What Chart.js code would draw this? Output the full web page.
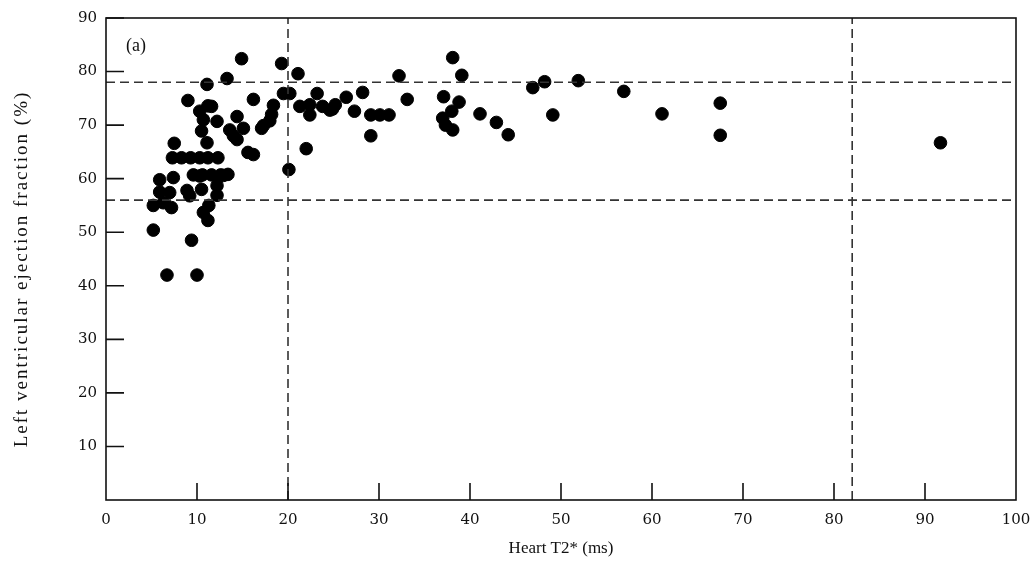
<!DOCTYPE html>
<html>
<head>
<meta charset="utf-8">
<script src="https://cdn.jsdelivr.net/npm/chart.js@4"></script>
<style>
  html, body { margin: 0; padding: 0; background: #fff; }
  #wrap { width: 1035px; height: 563px; }
</style>
</head>
<body>
<div id="wrap"><canvas id="t2Chart"></canvas></div>
<script>
// Heart T2* (ms) vs LVEF (%)
const t2Values = [
  5.2, 5.2, 5.9, 5.9, 6.3, 6.7, 7.0, 7.2, 7.3, 7.4, 7.5, 8.3, 9.0, 8.9, 9.2, 9.3, 9.4,
  9.6, 10.0, 10.3, 10.3, 10.3, 10.5, 10.5, 10.6, 10.7, 10.7, 11.1, 11.1, 11.2, 11.2, 11.2,
  11.3, 11.6, 11.6, 12.2, 12.2, 12.2, 12.3, 12.6, 12.9, 13.3, 13.4, 13.6, 14.0, 14.4,
  14.4, 14.9, 15.1, 15.6, 16.2, 16.2, 17.1, 17.3, 18.0, 18.2, 18.4, 19.3, 19.5, 20.1,
  20.2, 21.1, 21.3, 22.0, 22.4, 22.4, 23.2, 23.8, 24.6, 24.9, 25.2, 26.4, 27.3, 28.2,
  29.1, 29.1, 30.1, 31.1, 32.2, 33.1, 37.0, 37.1, 37.3, 38.0, 38.1, 38.1, 38.8, 39.1,
  41.1, 42.9, 44.2, 46.9, 48.2, 49.1, 51.9, 56.9, 61.1, 67.5, 67.5, 91.7
];
const lvefValues = [
  50.4, 55.0, 59.8, 57.5, 55.5, 42.0, 57.4, 54.6, 63.9, 60.2, 66.6, 63.9, 74.6, 57.8, 56.8, 63.9, 48.5,
  60.7, 42.0, 63.9, 72.6, 60.5, 68.9, 58.0, 60.7, 71.0, 53.7, 77.6, 66.7, 52.2, 73.6, 63.9,
  55.0, 73.5, 60.7, 70.7, 58.7, 56.9, 63.9, 60.7, 60.6, 78.7, 60.8, 69.1, 68.0, 71.6,
  67.3, 82.4, 69.4, 64.9, 74.8, 64.5, 69.4, 69.9, 70.8, 72.0, 73.7, 81.5, 75.9, 61.7,
  75.9, 79.6, 73.5, 65.6, 73.8, 71.9, 75.9, 73.5, 72.8, 73.0, 73.8, 75.2, 72.6, 76.1,
  71.9, 68.0, 71.9, 71.9, 79.2, 74.8, 71.3, 75.3, 70.0, 72.6, 69.1, 82.6, 74.3, 79.3,
  72.1, 70.5, 68.2, 77.0, 78.1, 71.9, 78.3, 76.3, 72.1, 74.1, 68.1, 66.7
];

// normal-range reference lines
const lvefRefLines = [56, 78];
const t2RefLines = [20, 82];

const xTicks = [0, 10, 20, 30, 40, 50, 60, 70, 80, 90, 100];
const yTicks = [0, 10, 20, 30, 40, 50, 60, 70, 80, 90];

const yTitle = 'Left ventricular ejection fraction (%)';
const xTitle = 'Heart T2* (ms)';

const serif = '"Liberation Serif", "DejaVu Serif", serif';
const tickSerif = '"DejaVu Serif", "Liberation Serif", serif';
const dashStyle = { borderColor: '#333', borderWidth: 1.6, borderDash: [9, 5], pointRadius: 0, showLine: true, fill: false };

const datasets = [];
lvefRefLines.forEach(v => datasets.push(Object.assign({
  data: [{ x: xTicks[0], y: v }, { x: xTicks[xTicks.length - 1], y: v }]
}, dashStyle)));
t2RefLines.forEach(v => datasets.push(Object.assign({
  data: [{ x: v, y: yTicks[0] }, { x: v, y: yTicks[yTicks.length - 1] }]
}, dashStyle)));
datasets.push({
  data: t2Values.map((x, i) => ({ x: x, y: lvefValues[i] })),
  backgroundColor: '#000',
  borderColor: '#000',
  pointRadius: 6.3,
  pointHoverRadius: 6.3,
  showLine: false
});

// frame, inward tick marks, y title and the panel letter
const framePlugin = {
  id: 'frame',
  afterDatasetsDraw(chart) {
    const { ctx, chartArea: a, scales } = chart;
    ctx.save();
    ctx.strokeStyle = '#111';
    ctx.lineWidth = 1.6;
    ctx.strokeRect(a.left, a.top, a.right - a.left, a.bottom - a.top);
    ctx.beginPath();
    yTicks.slice(1).forEach(v => {
      const py = scales.y.getPixelForValue(v);
      ctx.moveTo(a.left, py);
      ctx.lineTo(a.left + 18, py);
    });
    xTicks.slice(1, -1).forEach(v => {
      const px = scales.x.getPixelForValue(v);
      ctx.moveTo(px, a.bottom);
      ctx.lineTo(px, a.bottom - 17);
    });
    ctx.stroke();
    ctx.fillStyle = '#111';
    ctx.font = '18px ' + serif;
    ctx.textBaseline = 'middle';
    ctx.fillText('(a)', a.left + 20, a.top + 28);

    // y title, spaced out to the width of the original
    ctx.translate(22, (a.top + a.bottom) / 2 + 10);
    ctx.rotate(-Math.PI / 2);
    ctx.font = '19px ' + serif;
    ctx.letterSpacing = '2px';
    ctx.textAlign = 'center';
    ctx.fillText(yTitle, 0, 0);
    ctx.restore();
  }
};

new Chart(document.getElementById('t2Chart'), {
  type: 'scatter',
  data: { datasets: datasets },
  plugins: [framePlugin],
  options: {
    responsive: true,
    maintainAspectRatio: false,
    animation: false,
    layout: { padding: { top: 14, right: 0, left: 0, bottom: 0 } },
    plugins: { legend: { display: false }, tooltip: { enabled: false } },
    scales: {
      x: {
        type: 'linear',
        min: 0,
        max: 100,
        afterBuildTicks: s => { s.ticks = xTicks.map(v => ({ value: v })); },
        afterFit: s => { s.height = 63; s.paddingRight = 19; s.paddingLeft = 0; },
        grid: { display: false, drawTicks: false },
        border: { display: false },
        ticks: { color: '#111', font: { family: tickSerif, size: 15 }, padding: 11, maxRotation: 0 },
        title: { display: true, text: xTitle, color: '#111', font: { family: serif, size: 17 }, padding: { top: 3 } }
      },
      y: {
        type: 'linear',
        min: 0,
        max: 90,
        afterBuildTicks: s => { s.ticks = yTicks.map(v => ({ value: v })); },
        afterFit: s => { s.width = 106; },
        grid: { display: false, drawTicks: false },
        border: { display: false },
        ticks: { color: '#111', font: { family: tickSerif, size: 15 }, padding: 9,
                 callback: v => (v === 0 ? '' : v) },
        title: { display: false, text: yTitle }
      }
    }
  }
});
</script>
</body>
</html>
